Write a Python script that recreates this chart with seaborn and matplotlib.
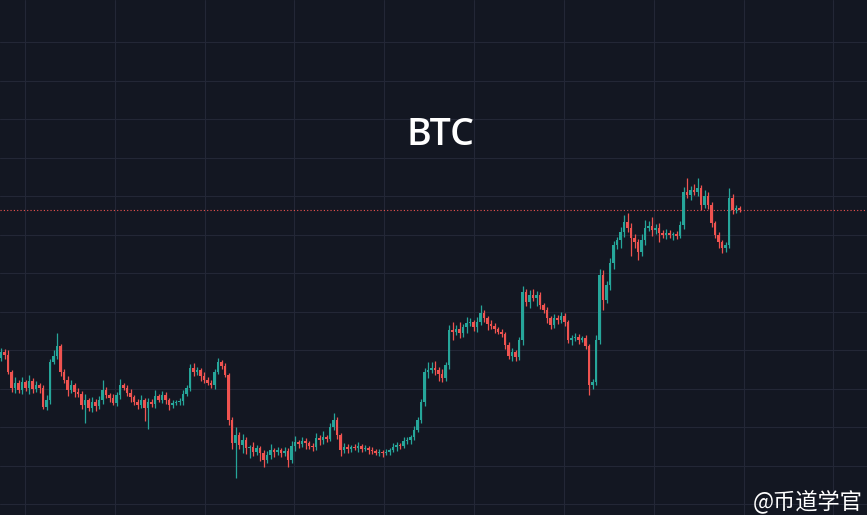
import numpy as np
import pandas as pd
import matplotlib
matplotlib.use("Agg")
import matplotlib.pyplot as plt
import seaborn as sns

# -------------------------------
# Data (price units)
# -------------------------------
first_open = 157

closes = [
    163, 160, 143, 127, 132, 125, 133, 127, 134, 126,
    130, 127, 108, 115, 153, 159, 169, 143, 135, 125,
    130, 123, 121, 110, 115, 107, 113, 109, 115, 125,
    120, 117, 112, 120, 130, 127, 122, 118, 113, 110,
    115, 107, 113, 111, 119, 115, 120, 115, 110, 112,
    113, 114, 121, 127, 147, 143, 145, 139, 135, 132,
    130, 143, 153, 149, 140, 95, 72, 80, 70, 75,
    67, 68, 63, 67, 62, 55, 60, 65, 63, 65,
    62, 64, 55, 69, 73, 71, 74, 72, 69, 68,
    77, 75, 78, 76, 88, 95, 80, 65, 68, 66,
    68, 67, 69, 66, 67, 65, 64, 62, 63, 62,
    63, 65, 68, 70, 69, 74, 75, 78, 85, 95,
    113, 143, 145, 147, 145, 141, 137, 150, 185, 183,
    186, 182, 188, 192, 193, 188, 193, 202, 197, 191,
    189, 186, 183, 181, 170, 159, 163, 158, 175, 223,
    213, 220, 217, 220, 210, 205, 197, 190, 197, 195,
    199, 193, 175, 177, 178, 175, 177, 169, 130, 133,
    175, 240, 215, 230, 252, 270, 275, 283, 293, 287,
    277, 273, 263, 275, 287, 289, 285, 287, 282, 280,
    282, 280, 281, 279, 290, 323, 320, 325, 323, 327,
    310, 319, 310, 292, 280, 273, 267, 270, 317, 305,
    307, 305,
]

upper_wick = [
    4, 3, 5, 2, 6, 3, 5, 2, 6, 3,
    4, 2, 3, 5, 3, 6, 13, 2, 3, 4,
    5, 2, 4, 3, 6, 2, 5, 3, 4, 10,
    3, 2, 4, 3, 6, 2, 3, 4, 2, 3,
    5, 2, 4, 3, 6, 2, 4, 3, 2, 3,
    2, 3, 4, 3, 4, 5, 3, 2, 4, 3,
    3, 3, 4, 2, 3, 2, 3, 8, 3, 6,
    3, 2, 5, 3, 2, 3, 4, 6, 2, 3,
    2, 4, 3, 5, 6, 2, 4, 3, 2, 3,
    5, 3, 6, 2, 4, 7, 3, 2, 4, 3,
    2, 3, 4, 2, 3, 2, 3, 2, 3, 2,
    3, 2, 4, 3, 2, 4, 3, 2, 4, 3,
    3, 4, 8, 6, 7, 3, 5, 3, 5, 8,
    4, 7, 3, 6, 4, 2, 5, 8, 3, 2,
    4, 3, 2, 3, 2, 3, 4, 2, 3, 6,
    3, 5, 6, 4, 3, 2, 3, 2, 4, 3,
    4, 3, 2, 3, 4, 3, 2, 3, 2, 3,
    5, 6, 5, 4, 5, 4, 3, 5, 7, 9,
    5, 4, 3, 6, 8, 5, 9, 4, 5, 3,
    4, 3, 2, 3, 4, 5, 14, 4, 6, 10,
    3, 6, 4, 3, 2, 3, 2, 3, 10, 4,
    3, 2,
]

lower_wick = [
    3, 4, 2, 4, 5, 3, 4, 3, 6, 4,
    3, 5, 2, 3, 4, 2, 3, 4, 3, 6,
    3, 5, 3, 4, 18, 3, 4, 5, 3, 4,
    3, 4, 2, 3, 4, 2, 3, 5, 3, 4,
    3, 13, 21, 3, 4, 2, 3, 4, 5, 3,
    2, 3, 4, 2, 3, 4, 3, 5, 3, 2,
    3, 4, 2, 3, 2, 5, 6, 35, 4, 8,
    6, 10, 4, 3, 8, 7, 3, 4, 5, 3,
    4, 3, 7, 3, 5, 4, 3, 6, 3, 4,
    3, 5, 4, 3, 2, 3, 4, 6, 3, 4,
    3, 2, 4, 3, 2, 4, 3, 2, 3, 4,
    2, 3, 2, 4, 3, 2, 3, 4, 3, 2,
    3, 4, 6, 3, 5, 7, 4, 3, 4, 8,
    3, 5, 4, 6, 3, 4, 5, 3, 4, 6,
    3, 4, 2, 3, 4, 3, 5, 4, 3, 5,
    4, 6, 3, 8, 4, 3, 5, 4, 3, 4,
    3, 4, 3, 5, 3, 4, 2, 3, 10, 4,
    3, 4, 10, 3, 5, 6, 4, 8, 5, 4,
    18, 6, 8, 4, 5, 3, 6, 4, 9, 3,
    4, 3, 5, 3, 2, 4, 3, 5, 3, 4,
    5, 3, 4, 4, 3, 6, 5, 4, 3, 4,
    3, 2,
]

title = "BTC"
watermark = "@币道学官"

# -------------------------------
# Build OHLC table
# -------------------------------
df = pd.DataFrame({"close": closes})
df["open"] = [first_open] + closes[:-1]
df["high"] = df[["open", "close"]].max(axis=1) + upper_wick
df["low"] = df[["open", "close"]].min(axis=1) - lower_wick
df["idx"] = np.arange(len(df))
df["up"] = df["close"] >= df["open"]

# -------------------------------
# Style
# -------------------------------
bg = "#131722"
grid_c = "#232736"
up_c = "#26a69a"
down_c = "#ef5350"

sns.set_theme(style="dark", rc={
    "axes.facecolor": bg,
    "figure.facecolor": bg,
    "grid.color": grid_c,
    "axes.grid": True,
})
plt.rcParams["font.family"] = ["Open Sans", "DejaVu Sans"]

fig = plt.figure(figsize=(8.67, 5.15), dpi=100)
ax = fig.add_axes([0, 0, 1, 1])

colors = np.where(df["up"], up_c, down_c)

# wicks
ax.vlines(df["idx"], df["low"], df["high"], colors=colors, linewidth=0.9, zorder=2)

# bodies
body_bottom = df[["open", "close"]].min(axis=1)
body_height = (df["close"] - df["open"]).abs().clip(lower=0.8)
ax.bar(df["idx"], body_height, bottom=body_bottom, width=0.8,
       color=colors, edgecolor="none", zorder=3)

# last price line
ax.axhline(closes[-1], color=down_c, linestyle=(0, (1, 2)), linewidth=0.8, zorder=1)

ax.set_xlim(-0.29, 247.4)
ax.set_ylim(0, 515)
ax.set_xticks(np.arange(6.86, 248, 25.66))
ax.set_yticks(np.arange(473, 0, -38.5))
ax.grid(True, color=grid_c, linewidth=0.8)
ax.tick_params(length=0, labelbottom=False, labelleft=False)
for s in ax.spines.values():
    s.set_visible(False)

fig.text(0.5075, 0.738, title, color="white", fontsize=27, fontweight="semibold",
         ha="center", va="center")
fig.text(0.995, 0.004, watermark, color="white", fontsize=16,
         ha="right", va="bottom", family=["Noto Sans CJK SC", "DejaVu Sans"])

fig.savefig("out.png", dpi=100, facecolor=bg)
